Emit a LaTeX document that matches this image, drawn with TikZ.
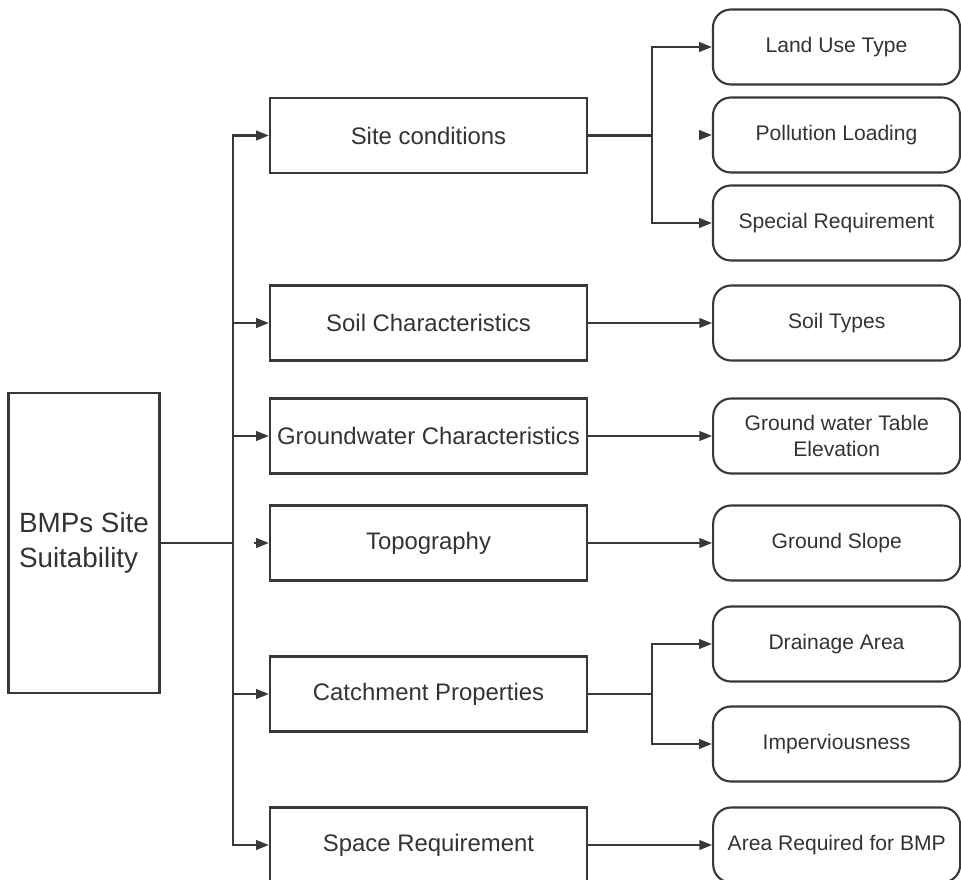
\documentclass[tikz,border=0pt]{standalone}
\usepackage{fontspec}
\setmainfont{Liberation Sans}
\usetikzlibrary{positioning,arrows.meta}

\begin{document}
\begin{tikzpicture}[x=0.025cm, y=-0.025cm, line width=1.5pt, color=black!78, text=black!80,
    goal/.style={draw, rectangle, minimum width=3.775cm, minimum height=7.5cm, align=left, font=\fontsize{19.8}{24.5}\selectfont},
    factor/.style={draw, rectangle, minimum width=7.925cm, minimum height=1.875cm, inner xsep=2pt, font=\fontsize{17}{20}\selectfont},
    criterion/.style={draw, rounded corners=0.45cm, minimum width=6.175cm, minimum height=1.875cm, align=center, font=\fontsize{15}{18.5}\selectfont},
    link/.style={-{Triangle[length=3.2mm, width=2.4mm]}},
    trunkline/.style={line width=1.8pt, line cap=rect}]
    \useasboundingbox (0,0) rectangle (961,880);
    \node [goal] (bmp) at (84,543) {BMPs Site\\Suitability}; % left box
    % middle column
    \node [factor] (site) at (428.5,135.5) {Site conditions};
    \node [factor] (soil) at (428.5,323) {Soil Characteristics};
    \node [factor] (ground) at (428.5,436) {Groundwater Characteristics};
    \node [factor] (topo) at (428.5,543) {Topography};
    \node [factor] (catch) at (428.5,694) {Catchment Properties};
    \node [factor] (space) at (428.5,845) {Space Requirement};
    % right column
    \node [criterion] (land) at (836.5,47) {Land Use Type};
    \node [criterion] (pollution) at (836.5,135) {Pollution Loading};
    \node [criterion] (special) at (836.5,223) {Special Requirement};
    \node [criterion, right=3.1cm of soil] (soiltype) {Soil Types};
    \node [criterion, right=3.1cm of ground] (gwtable) {Ground water Table\\Elevation};
    \node [criterion, right=3.1cm of topo] (slope) {Ground Slope};
    \node [criterion] (drainage) at (836.5,644) {Drainage Area};
    \node [criterion] (imperv) at (836.5,744) {Imperviousness};
    \node [criterion, right=3.1cm of space] (areareq) {Area Required for BMP};
    \coordinate (trunk) at (233,543); % main split
    \coordinate (sitefork) at (652,135.5); % split after site conditions
    \coordinate (catchfork) at (652,694); % split after catchment
    % main trunk
    \draw [trunkline] (bmp.east) -- (trunk);
    \draw [trunkline] (trunk |- site.west) -- (trunk |- space.west);
    \draw [link] (trunk |- site.west) -- (site.west);
    \draw [link] (trunk |- soil.west) -- (soil.west);
    \draw [link] (trunk |- ground.west) -- (ground.west);
    \draw [link] ([xshift=-0.38cm]topo.west) -- (topo.west); % loose tip
    \draw [link] (trunk |- catch.west) -- (catch.west);
    \draw [link] (trunk |- space.west) -- (space.west);
    % site conditions
    \draw (site.east) -- (sitefork);
    \draw [line cap=rect] (sitefork |- land.west) -- (sitefork |- special.west);
    \draw [link] (sitefork |- land.west) -- (land.west);
    \draw [link] ([xshift=-0.33cm]pollution.west) -- (pollution.west); % loose tip
    \draw [link] (sitefork |- special.west) -- (special.west);
    % single links
    \draw [link] (soil.east) -- (soiltype.west);
    \draw [link] (ground.east) -- (gwtable.west);
    \draw [link] (topo.east) -- (slope.west);
    \draw [link] (space.east) -- (areareq.west);
    % catchment
    \draw (catch.east) -- (catchfork);
    \draw [line cap=rect] (catchfork |- drainage.west) -- (catchfork |- imperv.west);
    \draw [link] (catchfork |- drainage.west) -- (drainage.west);
    \draw [link] (catchfork |- imperv.west) -- (imperv.west);
\end{tikzpicture}
\end{document}
